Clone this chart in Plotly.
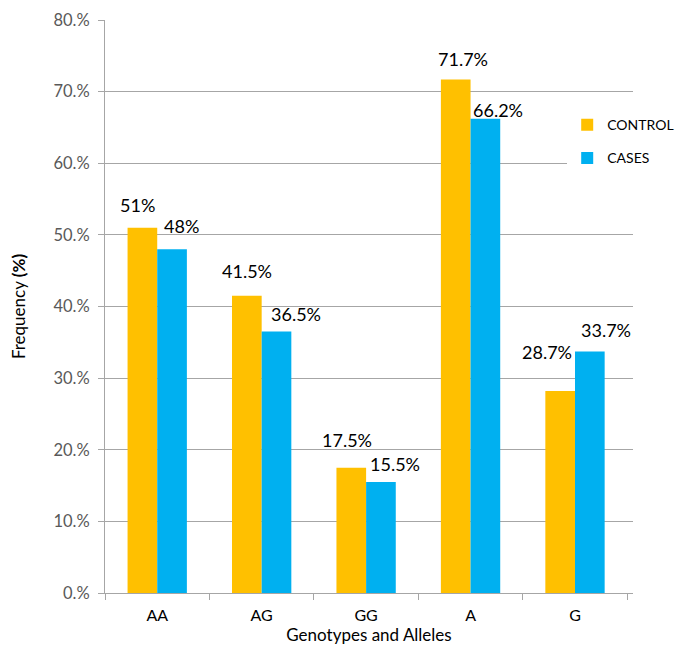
import plotly.graph_objects as go

categories = ["AA", "AG", "GG", "A", "G"]
control_values = [51.0, 41.5, 17.5, 71.7, 28.2]
cases_values = [48.0, 36.5, 15.5, 66.2, 33.7]
control_labels = ["51%", "41.5%", "17.5%", "71.7%", "28.7%"]
cases_labels = ["48%", "36.5%", "15.5%", "66.2%", "33.7%"]
y_ticks = [0, 10, 20, 30, 40, 50, 60, 70, 80]
y_tick_labels = ["0.%", "10.%", "20.%", "30.%", "40.%", "50.%", "60.%", "70.%", "80.%"]

# label offsets (pixels) relative to the bar centre/top, as placed in the original
control_dx = [-5, 0, -4, 7, -13]
control_dy = [23, 25, 28, 20, 39]
cases_dx = [9, 19, 14, 12, 16]
cases_dy = [23, 18, 18, 9, 22]

FONT = "Lato, 'Liberation Sans', sans-serif"
C_CONTROL = "#FFC000"
C_CASES = "#00B0F0"

fig = go.Figure()
fig.add_trace(go.Bar(x=categories, y=control_values, name="CONTROL",
                     marker=dict(color=C_CONTROL, line=dict(width=0)),
                     legendgroup="a"))
fig.add_trace(go.Bar(x=categories, y=cases_values, name="CASES",
                     marker=dict(color=C_CASES, line=dict(width=0)),
                     legendgroup="b"))

for i, c in enumerate(categories):
    fig.add_annotation(x=c, y=control_values[i], text=control_labels[i], showarrow=False,
                       xshift=-15 + control_dx[i], yshift=control_dy[i],
                       font=dict(family=FONT, size=18, color="#000000"))
    fig.add_annotation(x=c, y=cases_values[i], text=cases_labels[i], showarrow=False,
                       xshift=15 + cases_dx[i], yshift=cases_dy[i],
                       font=dict(family=FONT, size=18, color="#000000"))

fig.update_layout(
    width=677, height=640,
    margin=dict(l=97, r=52, t=12, b=55, autoexpand=False),
    paper_bgcolor="white", plot_bgcolor="white",
    barmode="group", bargap=0.432, bargroupgap=0,
    font=dict(family=FONT, size=14, color="#000000"),
    showlegend=True,
    legend=dict(xref="container", yref="container",
                x=0.826, y=0.842, xanchor="left", yanchor="top",
                bgcolor="rgba(255,255,255,1)", traceorder="grouped",
                tracegroupgap=12, font=dict(family=FONT, size=14, color="#000000"),
                itemwidth=30, borderwidth=0),
)
fig.update_xaxes(
    type="category", showline=True, linecolor="#A6A6A6", linewidth=1,
    ticks="outside", tickson="boundaries", ticklen=6, tickcolor="#A6A6A6",
    ticklabelstandoff=8, ticklabeloverflow="allow",
    tickfont=dict(family=FONT, size=16, color="#000000"),
    title=dict(text="Genotypes and Alleles", standoff=4,
               font=dict(family=FONT, size=17, color="#000000")),
    showgrid=False, automargin=False,
)
fig.update_yaxes(
    range=[0, 80], tickvals=y_ticks, ticktext=y_tick_labels,
    showline=True, linecolor="#A6A6A6", linewidth=1,
    ticks="outside", ticklen=6, tickcolor="#A6A6A6",
    ticklabelstandoff=5, ticklabeloverflow="allow",
    tickfont=dict(family=FONT, size=16.5, color="#595959"),
    showgrid=True, gridcolor="#A6A6A6", gridwidth=1, zeroline=False,
    title=dict(text="Frequency <b>(%)</b>", standoff=33,
               font=dict(family=FONT, size=17, color="#000000")),
    automargin=False,
)

fig.write_html("out.html")
